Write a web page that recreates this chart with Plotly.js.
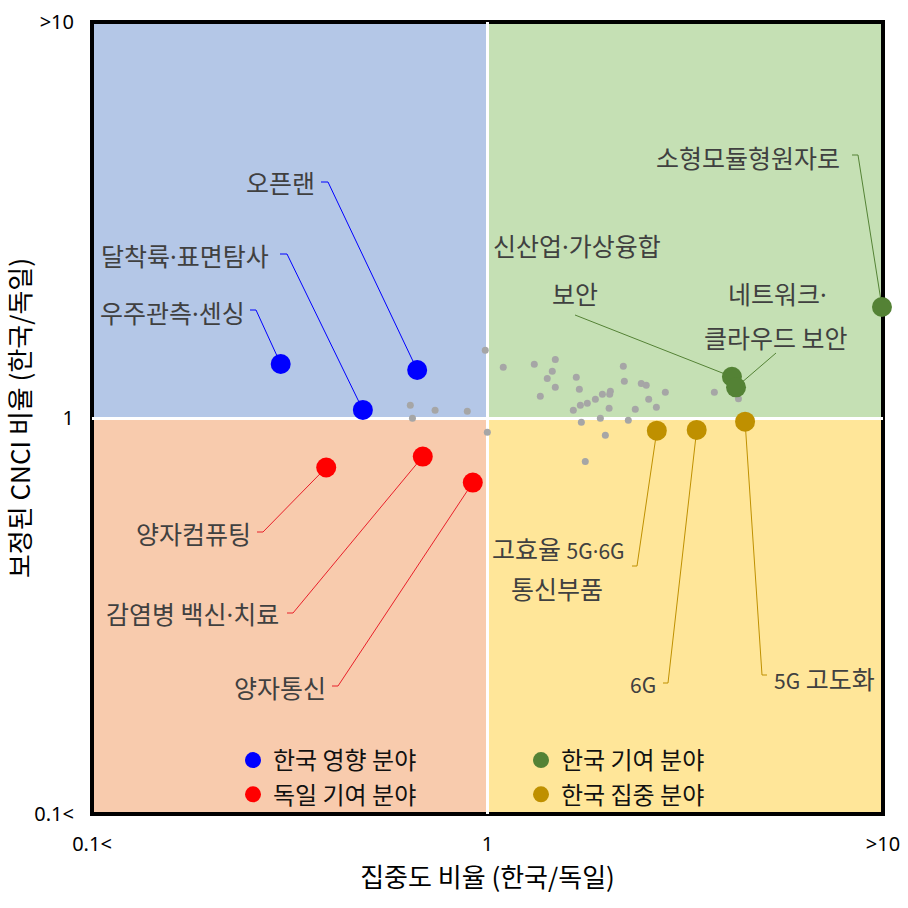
<!DOCTYPE html>
<html><head><meta charset="utf-8">
<script src="https://cdn.plot.ly/plotly-3.0.1.min.js"></script>
<style>html,body{margin:0;padding:0;background:#fff}#chart{width:908px;height:908px}</style>
</head><body><div id="chart"></div>
<script>
// ---------------- DATA ----------------
const blueNames = ['우주관측·센싱', '달착륙·표면탐사', '오픈랜'];
const blueX = [0.30, 0.484, 0.664];
const blueY = [1.369, 1.048, 1.322];

const redNames = ['양자컴퓨팅', '감염병 백신·치료', '양자통신'];
const redX = [0.391, 0.686, 0.918];
const redY = [0.750, 0.799, 0.687];

const greenNames = ['소형모듈형원자로', '신산업·가상융합 보안', '네트워크·클라우드 보안'];
const greenX = [9.94, 4.15, 4.25];
const greenY = [1.907, 1.271, 1.195];

const goldNames = ['고효율 5G·6G 통신부품', '6G', '5G 고도화'];
const goldX = [2.68, 3.38, 4.48];
const goldY = [0.929, 0.933, 0.979];

const greyX = [0.987, 1.096, 1.313, 1.484, 1.458, 1.416, 1.484, 1.360, 1.677, 1.707,
               1.648, 1.717, 1.788, 1.874, 1.952, 2.045, 2.037, 2.030, 2.205, 2.218,
               2.448, 2.520, 2.556, 2.816, 2.364, 2.673, 3.746, 4.31, 0.638, 0.737,
               0.889, 0.646, 0.999, 1.727, 1.929, 2.270, 1.986, 1.767];
const greyY = [1.483, 1.343, 1.366, 1.406, 1.312, 1.259, 1.195, 1.134, 1.267, 1.182,
               1.046, 1.077, 1.089, 1.115, 1.148, 1.168, 1.148, 1.058, 1.351, 1.238,
               1.223, 1.209, 1.115, 1.161, 1.052, 1.064, 1.161, 1.119, 1.077, 1.046,
               1.040, 0.998, 0.920, 0.975, 0.998, 0.987, 0.904, 0.777];

const groupNames = ['한국 영향 분야', '독일 기여 분야', '한국 기여 분야', '한국 집중 분야'];
const tickVals = [0.1, 1, 10];
const tickText = ['0.1<', '1', '>10'];
const xTitle = '집중도 비율 (한국/독일)';
const yTitle = '보정된 CNCI 비율 (한국/독일)';

// ---------------- LABEL LAYOUT (page pixels of the frame) ----------------
const FX0 = 92, FX1 = 883, FY0 = 22, FY1 = 814;
const pX = px => (px - FX0) / (FX1 - FX0);
const pY = py => (FY1 - py) / (FY1 - FY0);
const toData = p => Math.pow(10, 2 * p - 1);
const S = t => '<span style="font-size:21px">' + t + '</span>';
const D = t => t.replace(/·/g, '<span style="font-family:Noto Sans">·</span>');

const blueLabels = [
  {lines: [['우주관측·센싱', 247, 312, 'right']], leader: [[250, 310], [256, 310]]},
  {lines: [['달착륙·표면탐사', 271, 255, 'right']], leader: [[280, 254], [287, 254]]},
  {lines: [['오픈랜', 317, 182, 'right']], leader: [[321, 182], [328, 182]]}
];
const redLabels = [
  {lines: [['양자컴퓨팅', 253, 533, 'right']], leader: [[257, 532], [263, 532]]},
  {lines: [['감염병 백신·치료', 281, 613, 'right']], leader: [[287, 613], [293, 613]]},
  {lines: [['양자통신', 328, 687, 'right']], leader: [[332, 686], [338, 686]]}
];
const greenLabels = [
  {lines: [['소형모듈형원자로', 842, 157, 'right']], leader: [[852, 155], [858, 155]]},
  {lines: [['신산업·가상융합', 577, 245, 'center'], ['보안', 575, 293, 'center']], leader: [[575, 315]]},
  {lines: [['네트워크·', 777, 293, 'center'], ['클라우드 보안', 776, 337, 'center']], leader: [[776, 353]]}
];
const goldLabels = [
  {lines: [['고효율 ' + S('5G·6G'), 558, 548, 'center'], ['통신부품', 557, 588, 'center']], leader: [[632, 566], [637, 566]]},
  {lines: [[S('6G'), 658, 684, 'right']], leader: [[663, 683], [668, 683]]},
  {lines: [[S('5G') + ' 고도화', 772, 678, 'left']], leader: [[767, 675], [762, 675]]}
];

const FONT = '"Noto Sans CJK KR", "Noto Sans", sans-serif';
const LATIN = '"Noto Sans", "Noto Sans CJK KR", sans-serif';
const groups = [
  {name: groupNames[0], x: blueX, y: blueY, names: blueNames, color: '#0000FF', lineColor: '#0000FF', labels: blueLabels, legend: 'legend'},
  {name: groupNames[1], x: redX, y: redY, names: redNames, color: '#FF0000', lineColor: '#E8202A', labels: redLabels, legend: 'legend'},
  {name: groupNames[2], x: greenX, y: greenY, names: greenNames, color: '#548235', lineColor: '#548235', labels: greenLabels, legend: 'legend2'},
  {name: groupNames[3], x: goldX, y: goldY, names: goldNames, color: '#BF9000', lineColor: '#BF9000', labels: goldLabels, legend: 'legend2'}
];

const traces = [];
const annotations = [];

traces.push({
  type: 'scatter', mode: 'markers', x: greyX, y: greyY, showlegend: false,
  marker: {size: 7, color: '#A6A6A6'}, hoverinfo: 'x+y'
});

groups.forEach(g => {
  const lx = [], ly = [];
  g.labels.forEach((lab, i) => {
    lab.leader.forEach(pt => { lx.push(toData(pX(pt[0]))); ly.push(toData(pY(pt[1]))); });
    lx.push(g.x[i]); ly.push(g.y[i]);
    lx.push(null); ly.push(null);
    lab.lines.forEach(l => {
      annotations.push({
        xref: 'paper', yref: 'paper', x: pX(l[1]), y: pY(l[2]),
        xanchor: l[3], yanchor: 'middle', align: 'center', showarrow: false,
        text: D(l[0]), font: {family: FONT, size: 25, color: '#404040'}
      });
    });
  });
  traces.push({
    type: 'scatter', mode: 'lines', x: lx, y: ly, showlegend: false, hoverinfo: 'skip',
    line: {color: g.lineColor, width: 1}, connectgaps: false
  });
});

groups.forEach(g => {
  traces.push({
    type: 'scatter', mode: 'markers', name: g.name, x: g.x, y: g.y, text: g.names,
    legend: g.legend, cliponaxis: false,
    marker: {size: 20, color: g.color}, hoverinfo: 'text+x+y'
  });
});

const axisCommon = {
  type: 'log', range: [-1, 1], tickvals: tickVals, ticktext: tickText,
  showgrid: true, gridcolor: '#FFFFFF', gridwidth: 3, zeroline: false, showline: false,
  ticks: '', tickfont: {family: LATIN, size: 20, color: '#000000'}, fixedrange: true
};

const layout = {
  width: 908, height: 908,
  margin: {l: 92, r: 25, t: 22, b: 94},
  paper_bgcolor: '#FFFFFF', plot_bgcolor: '#FFFFFF',
  font: {family: FONT},
  xaxis: Object.assign({}, axisCommon, {
    ticklabelstandoff: 16,
    title: {text: xTitle, font: {family: FONT, size: 26, color: '#000000'}, standoff: 10}
  }),
  yaxis: Object.assign({}, axisCommon, {
    ticklabelstandoff: 17,
    title: {text: yTitle, font: {family: FONT, size: 26, color: '#000000'}, standoff: 10}
  }),
  shapes: [
    {type: 'rect', xref: 'paper', yref: 'paper', x0: 0, x1: 0.5, y0: 0.5, y1: 1, fillcolor: '#B4C7E7', line: {width: 0}, layer: 'below'},
    {type: 'rect', xref: 'paper', yref: 'paper', x0: 0.5, x1: 1, y0: 0.5, y1: 1, fillcolor: '#C5E0B4', line: {width: 0}, layer: 'below'},
    {type: 'rect', xref: 'paper', yref: 'paper', x0: 0, x1: 0.5, y0: 0, y1: 0.5, fillcolor: '#F8CBAD', line: {width: 0}, layer: 'below'},
    {type: 'rect', xref: 'paper', yref: 'paper', x0: 0.5, x1: 1, y0: 0, y1: 0.5, fillcolor: '#FFE699', line: {width: 0}, layer: 'below'},
    {type: 'rect', xref: 'paper', yref: 'paper', x0: 0, x1: 1, y0: 0, y1: 1, fillcolor: 'rgba(0,0,0,0)', line: {width: 4, color: '#000000'}, layer: 'between'}
  ],
  annotations: annotations,
  legend: {
    x: pX(233), y: pY(738), xanchor: 'left', yanchor: 'top', bgcolor: 'rgba(0,0,0,0)',
    font: {family: FONT, size: 24, color: '#111111'}, itemwidth: 30, itemsizing: 'trace'
  },
  legend2: {
    x: pX(521), y: pY(738), xanchor: 'left', yanchor: 'top', bgcolor: 'rgba(0,0,0,0)',
    font: {family: FONT, size: 24, color: '#111111'}, itemwidth: 30, itemsizing: 'trace'
  },
  showlegend: true
};

Plotly.newPlot('chart', traces, layout, {displayModeBar: false, staticPlot: true});
</script>
</body></html>
